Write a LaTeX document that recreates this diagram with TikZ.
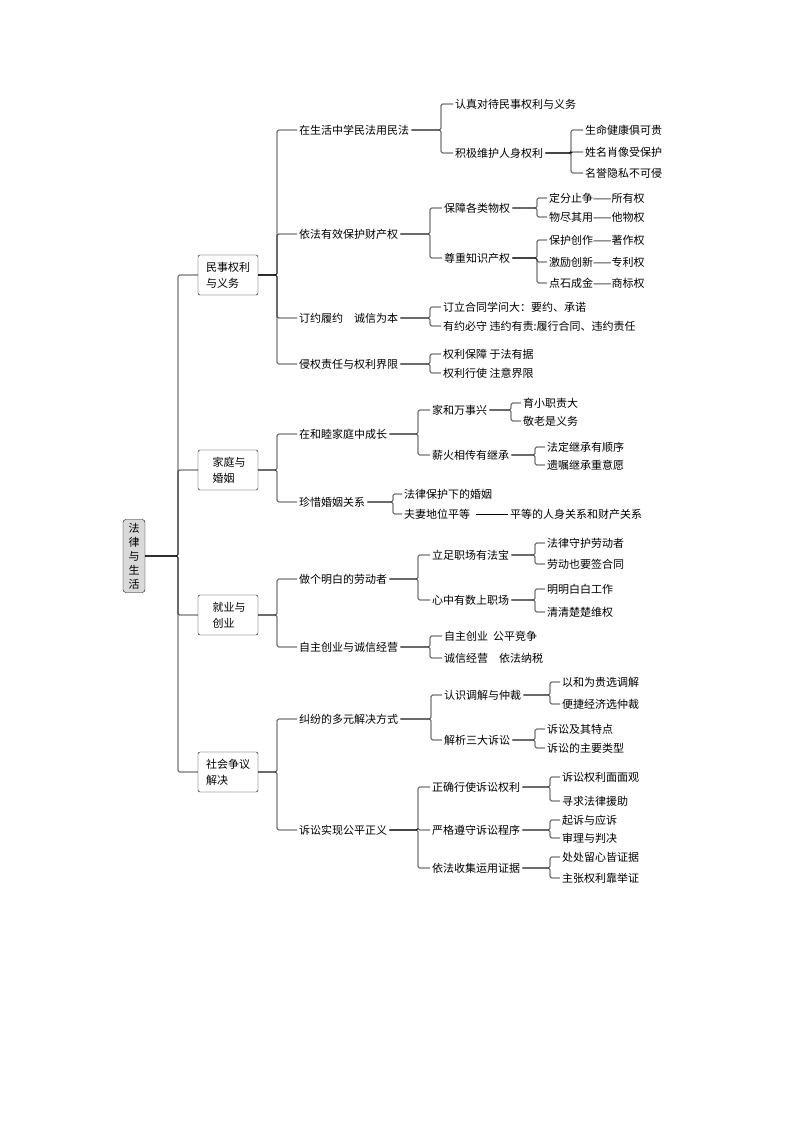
\documentclass[tikz,border=0pt]{standalone}
\usepackage{fontspec}
\setmainfont{Noto Sans CJK SC}
\begin{document}
\begin{tikzpicture}[x=1pt,y=-1pt,
  t/.style={anchor=west,inner sep=2pt,font=\fontsize{11}{13}\selectfont},
  box/.style={draw,rounded corners=2pt,minimum width=60,minimum height=40,align=left,inner sep=3pt,font=\fontsize{11}{16}\selectfont},
  conn/.style={line width=0.6pt,rounded corners=1.5pt}]
\useasboundingbox (0,0) rectangle (794,1123);
\newcommand\brk[3]{\coordinate (bx) at (#2,0);\foreach \c in {#3}{\draw[conn] (#1.east) -- (#1.east -| bx) |- (\c.west);}}
% root
\node[draw,rounded corners=3pt,fill=gray!30,minimum width=22,minimum height=73,align=center,inner sep=2pt,font=\fontsize{11}{14}\selectfont] (R) at (134,556) {法\\律\\与\\生\\活};
\node[box] (A) at (228,275) {民事权利\\与义务};
\node[box] (B) at (228,470) {\ 家庭与\\\ 婚姻};
\node[box] (C) at (228,615) {\ 就业与\\\ 创业};
\node[box] (D) at (228,772) {社会争议\\解决};
\brk{R}{178}{A,B,C,D}
% A
\node[t] (A1) at (297,130) {在生活中学民法用民法};
\node[t] (A2) at (297,234) {依法有效保护财产权};
\node[t] (A3) at (297,318) {订约履约\quad 诚信为本};
\node[t] (A4) at (297,364) {侵权责任与权利界限};
\brk{A}{277}{A1,A2,A3,A4}
\node[t] (A11) at (453,104) {认真对待民事权利与义务};
\node[t] (A12) at (453,153) {积极维护人身权利};
\brk{A1}{441}{A11,A12}
\node[t] (A121) at (583,130) {生命健康俱可贵};
\node[t] (A122) at (583,152) {姓名肖像受保护};
\node[t] (A123) at (583,173) {名誉隐私不可侵};
\brk{A12}{571}{A121,A122,A123}
\node[t] (A21) at (442,208) {保障各类物权};
\node[t] (A22) at (442,258) {尊重知识产权};
\brk{A2}{430}{A21,A22}
\node[t] (A211) at (547,198) {定分止争——所有权};
\node[t] (A212) at (547,217) {物尽其用——他物权};
\brk{A21}{537}{A211,A212}
\node[t] (A221) at (547,240) {保护创作——著作权};
\node[t] (A222) at (547,262) {激励创新——专利权};
\node[t] (A223) at (547,283) {点石成金——商标权};
\brk{A22}{537}{A221,A222,A223}
\node[t] (A31) at (441,307) {订立合同学问大：要约、承诺};
\node[t] (A32) at (441,326) {有约必守 违约有责:履行合同、违约责任};
\brk{A3}{430}{A31,A32}
\node[t] (A41) at (441,354) {权利保障 于法有据};
\node[t] (A42) at (441,373) {权利行使 注意界限};
\brk{A4}{430}{A41,A42}
% B
\node[t] (B1) at (297,434) {在和睦家庭中成长};
\node[t] (B2) at (297,502) {珍惜婚姻关系};
\brk{B}{277}{B1,B2}
\node[t] (B11) at (430,410) {家和万事兴};
\node[t] (B12) at (430,455) {薪火相传有继承};
\brk{B1}{418}{B11,B12}
\node[t] (B111) at (521,403) {育小职责大};
\node[t] (B112) at (521,421) {敬老是义务};
\brk{B11}{511}{B111,B112}
\node[t] (B121) at (545,447) {法定继承有顺序};
\node[t] (B122) at (545,465) {遗嘱继承重意愿};
\brk{B12}{535}{B121,B122}
\node[t] (B21) at (402,494) {法律保护下的婚姻};
\node[t] (B22) at (402,514) {夫妻地位平等};
\brk{B2}{393}{B21,B22}
\node[t] (B221) at (508,514) {平等的人身关系和财产关系};
\draw[conn] ([xshift=4pt]B22.east) -- (B221.west);
% C
\node[t] (C1) at (297,579) {做个明白的劳动者};
\node[t] (C2) at (297,647) {自主创业与诚信经营};
\brk{C}{277}{C1,C2}
\node[t] (C11) at (430,555) {立足职场有法宝};
\node[t] (C12) at (430,600) {心中有数上职场};
\brk{C1}{418}{C11,C12}
\node[t] (C111) at (545,543) {法律守护劳动者};
\node[t] (C112) at (545,564) {劳动也要签合同};
\brk{C11}{535}{C111,C112}
\node[t] (C121) at (545,589) {明明白白工作};
\node[t] (C122) at (545,612) {清清楚楚维权};
\brk{C12}{535}{C121,C122}
\node[t] (C21) at (442,636) {自主创业\ \ 公平竞争};
\node[t] (C22) at (442,658) {诚信经营\quad 依法纳税};
\brk{C2}{430}{C21,C22}
% D
\node[t] (D1) at (297,719) {纠纷的多元解决方式};
\node[t] (D2) at (297,830) {诉讼实现公平正义};
\brk{D}{277}{D1,D2}
\node[t] (D11) at (442,695) {认识调解与仲裁};
\node[t] (D12) at (442,740) {解析三大诉讼};
\brk{D1}{431}{D11,D12}
\node[t] (D111) at (560,682) {以和为贵选调解};
\node[t] (D112) at (560,704) {便捷经济选仲裁};
\brk{D11}{550}{D111,D112}
\node[t] (D121) at (545,729) {诉讼及其特点};
\node[t] (D122) at (545,748) {诉讼的主要类型};
\brk{D12}{535}{D121,D122}
\node[t] (D21) at (430,787) {正确行使诉讼权利};
\node[t] (D22) at (430,830) {严格遵守诉讼程序};
\node[t] (D23) at (430,868) {依法收集运用证据};
\brk{D2}{418}{D21,D22,D23}
\node[t] (D211) at (560,777) {诉讼权利面面观};
\node[t] (D212) at (560,801) {寻求法律援助};
\brk{D21}{550}{D211,D212}
\node[t] (D221) at (560,820) {起诉与应诉};
\node[t] (D222) at (560,838) {审理与判决};
\brk{D22}{550}{D221,D222}
\node[t] (D231) at (560,857) {处处留心皆证据};
\node[t] (D232) at (560,878) {主张权利靠举证};
\brk{D23}{550}{D231,D232}
\end{tikzpicture}
\end{document}
